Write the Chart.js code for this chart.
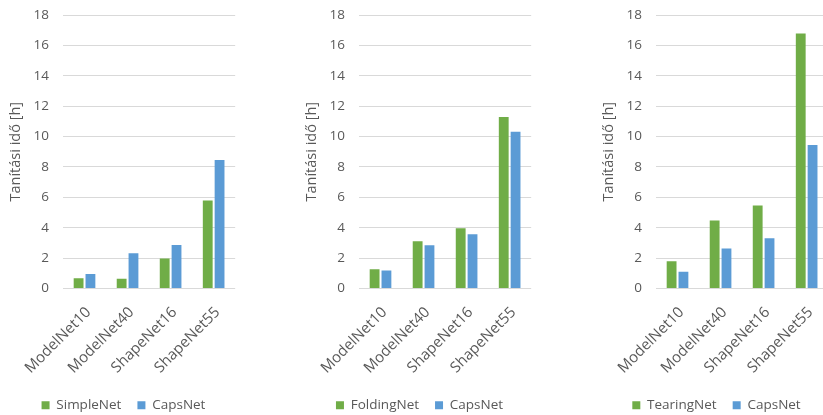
<!DOCTYPE html>
<html>
<head>
<meta charset="utf-8">
<script src="https://cdn.jsdelivr.net/npm/chart.js@4/dist/chart.umd.min.js"></script>
<style>
  html, body { margin: 0; padding: 0; background: #fff; overflow: hidden; width: 823px; height: 415px; }
  .panel { position: absolute; top: 0; width: 242px; height: 415px; }
</style>
</head>
<body>
<div class="panel" style="left:0px"><canvas id="c1" width="242" height="415"></canvas></div>
<div class="panel" style="left:296px"><canvas id="c2" width="242" height="415"></canvas></div>
<div class="panel" style="left:593px"><canvas id="c3" width="242" height="415"></canvas></div>
<script>
// Training time (hours) per dataset, for each network compared with CapsNet
const datasets = ['ModelNet10', 'ModelNet40', 'ShapeNet16', 'ShapeNet55'];

const simpleNet  = [0.68, 0.64, 1.97, 5.79];
const capsNetA   = [0.96, 2.32, 2.87, 8.46];

const foldingNet = [1.27, 3.11, 3.97, 11.29];
const capsNetB   = [1.18, 2.85, 3.57, 10.31];

const tearingNet = [1.80, 4.47, 5.46, 16.78];
const capsNetC   = [1.10, 2.63, 3.31, 9.45];

const yTicks = [0, 2, 4, 6, 8, 10, 12, 14, 16, 18];
const yTitle = 'Tanítási idő [h]';

const GREEN = '#70AD47';
const BLUE = '#5B9BD5';
const TEXT = '#595959';
const GRID = '#D9D9D9';
const FONT = "'Open Sans', 'Liberation Sans', sans-serif";
const SIZE = 13.5;

function makeChart(id, name, first, caps) {
  new Chart(document.getElementById(id), {
    type: 'bar',
    data: {
      labels: datasets,
      datasets: [
        { label: name, data: first, backgroundColor: GREEN },
        { label: 'CapsNet', data: caps, backgroundColor: BLUE }
      ]
    },
    options: {
      responsive: false,
      animation: false,
      events: [],
      categoryPercentage: 0.55,
      barPercentage: 0.83,
      layout: { padding: { top: 15, right: 5, bottom: -7, left: 10 } },
      plugins: {
        tooltip: { enabled: false },
        legend: {
          position: 'bottom',
          labels: {
            boxWidth: 8,
            boxHeight: 8,
            padding: 16,
            color: TEXT,
            font: { family: FONT, size: SIZE }
          }
        }
      },
      scales: {
        x: {
          grid: { display: false, drawTicks: false },
          border: { display: false },
          ticks: {
            color: TEXT,
            font: { family: FONT, size: 15 },
            minRotation: 45,
            maxRotation: 45,
            padding: 15,
            labelOffset: 4
          },
          afterFit: (s) => { s.height = 94; }
        },
        y: {
          min: 0,
          max: 18,
          afterBuildTicks: (s) => { s.ticks = yTicks.map(v => ({ value: v })); },
          grid: { color: GRID, lineWidth: 1, drawTicks: true, tickLength: 14, tickColor: 'rgba(0,0,0,0)' },
          border: { display: false },
          ticks: {
            color: TEXT,
            font: { family: FONT, size: SIZE },
            padding: 0
          },
          title: {
            display: true,
            text: yTitle,
            color: TEXT,
            font: { family: FONT, size: 14.5 },
            padding: { top: -3, bottom: 0 }
          },
          afterFit: (s) => { s.width = 53; }
        }
      }
    }
  });
}

makeChart('c1', 'SimpleNet', simpleNet, capsNetA);
makeChart('c2', 'FoldingNet', foldingNet, capsNetB);
makeChart('c3', 'TearingNet', tearingNet, capsNetC);
</script>
</body>
</html>
